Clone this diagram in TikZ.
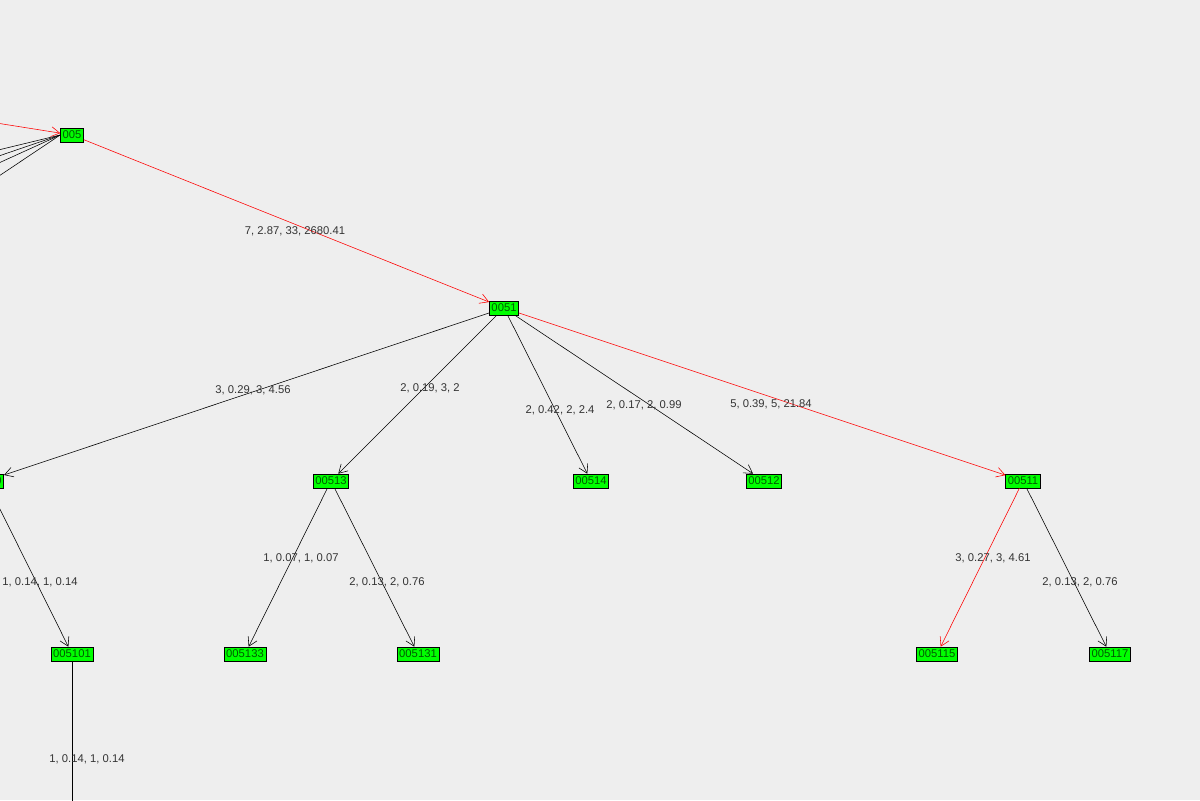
\documentclass[tikz,border=0pt]{standalone}
\usepackage{fontspec}
\setmainfont{Liberation Sans}
\usetikzlibrary{arrows.meta}
\definecolor{bgcol}{RGB}{238,238,238}
\definecolor{nodegreen}{RGB}{0,255,0}
\definecolor{txtgreen}{RGB}{0,90,0}
\begin{document}
\begin{tikzpicture}[x=0.025cm, y=-0.025cm, thin,
        node_style/.style={rectangle,draw=black,fill=nodegreen,text=txtgreen,font=\fontsize{8}{9}\selectfont,inner sep=1.5pt,minimum height=0.35cm},
        edge_style/.style={draw=black,-{Straight Barb[length=6pt,width=7pt]}},
        path_edge_style/.style={draw=red,-{Straight Barb[length=6pt,width=7pt]}},
        label_style/.style={font=\fontsize{8}{9}\selectfont,text=black!80}]

        \fill [bgcol] (0,0) rectangle (1200,800);
        \useasboundingbox (0,0) rectangle (1200,800);
        \clip (0,0) rectangle (1200,800);

        \node [node_style](n005) at (72,135) {005};
        \node [node_style](n0051) at (504,308) {0051};
        \node [node_style](n00510) at (-14,481) {00510};
        \node [node_style](n00513) at (331,481) {00513};
        \node [node_style](n00514) at (591,481) {00514};
        \node [node_style](n00512) at (764,481) {00512};
        \node [node_style](n00511) at (1023,481) {00511};
        \node [node_style](n005101) at (72,654) {005101};
        \node [node_style](n005133) at (245,654) {005133};
        \node [node_style](n005131) at (418,654) {005131};
        \node [node_style](n005115) at (937,654) {005115};
        \node [node_style](n005117) at (1110,654) {005117};

        \coordinate (in005) at (-10,122);
        \coordinate (out1) at (-10,152);
        \coordinate (out2) at (-10,159);
        \coordinate (out3) at (-10,167);
        \coordinate (out4) at (-10,182);
        \coordinate (down005101) at (72,810);

        \draw [path_edge_style] (in005) -- (n005);
        \foreach \c in {out1,out2,out3,out4}
            \draw [black] (n005.west) -- (\c);

        \draw [path_edge_style] (n005) -- (n0051);
        \draw [edge_style] (n0051) -- (n00510);
        \draw [edge_style] (n0051) -- (n00513);
        \draw [edge_style] (n0051) -- (n00514);
        \draw [edge_style] (n0051) -- (n00512);
        \draw [path_edge_style] (n0051) -- (n00511);
        \draw [edge_style] (n00510) -- (n005101);
        \draw [edge_style] (n00513) -- (n005133);
        \draw [edge_style] (n00513) -- (n005131);
        \draw [path_edge_style] (n00511) -- (n005115);
        \draw [edge_style] (n00511) -- (n005117);
        \draw [black] (n005101) -- (down005101);

        \node [label_style](l1) at (295,231) {7, 2.87, 33, 2680.41};
        \node [label_style](l2) at (253,390) {3, 0.29, 3, 4.56};
        \node [label_style](l3) at (430,388) {2, 0.19, 3, 2};
        \node [label_style](l4) at (560,410) {2, 0.42, 2, 2.4};
        \node [label_style](l5) at (644,405) {2, 0.17, 2, 0.99};
        \node [label_style](l6) at (771,404) {5, 0.39, 5, 21.84};
        \node [label_style](l7) at (40,582) {1, 0.14, 1, 0.14};
        \node [label_style](l8) at (301,558) {1, 0.07, 1, 0.07};
        \node [label_style](l9) at (387,582) {2, 0.13, 2, 0.76};
        \node [label_style](l10) at (993,558) {3, 0.27, 3, 4.61};
        \node [label_style](l11) at (1080,582) {2, 0.13, 2, 0.76};
        \node [label_style](l12) at (87,759) {1, 0.14, 1, 0.14};

        \end{tikzpicture}
\end{document}
